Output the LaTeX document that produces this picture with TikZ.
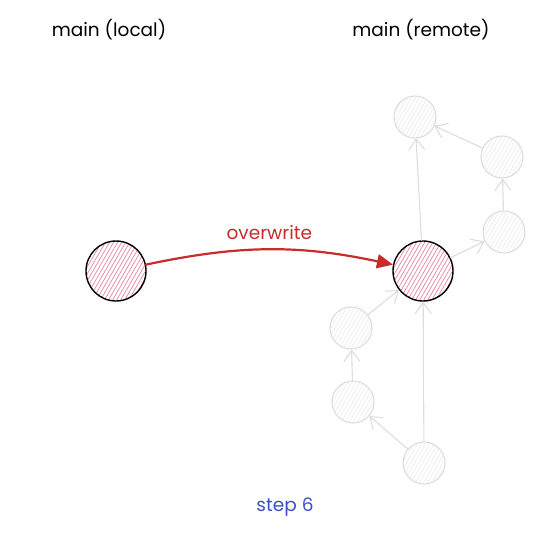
\documentclass[tikz,border=0pt]{standalone}
\usepackage{fontspec}
\setmainfont{Poppins}
\usetikzlibrary{arrows.meta,patterns.meta}
\definecolor{dored}{HTML}{C92A2A}
\definecolor{hongnhat}{HTML}{E8849E}
\definecolor{xanh}{HTML}{3B4FC9}
\definecolor{xam}{HTML}{DDDDDD}
\begin{document}
\begin{tikzpicture}[x=1pt,y=-1pt,line join=round,line cap=round,font=\fontsize{18.5}{22}\selectfont,
	commit/.style={circle,draw=black,line width=1.4pt,minimum size=60pt,inner sep=0pt,pattern={Lines[angle=60,distance=3.5pt,line width=0.7pt]},pattern color=hongnhat},
	ghost/.style={circle,draw=xam,line width=1.1pt,minimum size=42pt,inner sep=0pt,pattern={Lines[angle=60,distance=3.5pt,line width=0.5pt]},pattern color=xam!70},
	ghostedge/.style={draw=xam,line width=1.1pt,-{Straight Barb[length=11pt,width=16pt]}}]
	\useasboundingbox (0,0) rectangle (553,544);
	\node (tlocal) at (109,30) {main (local)};
	\node (tremote) at (421,30) {main (remote)};
	% cac commit mo phia remote
	\node[ghost] (t) at (415,117) {};
	\node[ghost] (r1) at (502,157) {};
	\node[ghost] (r2) at (504,232) {};
	\node[ghost] (l1) at (351,328) {};
	\node[ghost] (l2) at (353,402) {};
	\node[ghost] (b) at (424,463) {};
	\node[commit] (local) at (116,271) {};
	\node[commit] (remote) at (423,271) {};
	\foreach \a/\b in {remote/t,r1/t,r2/r1,remote/r2,l1/remote,l2/l1,b/l2,b/remote}
		\draw[ghostedge] (\a) -- (\b);
	\draw[dored,line width=2.2pt,-{Triangle[length=16pt,width=14pt]}] (local) to[bend left=12] node[above=6pt]{overwrite} (remote);
	\node[xanh] (step) at (285,507) {step 6};
\end{tikzpicture}
\end{document}
